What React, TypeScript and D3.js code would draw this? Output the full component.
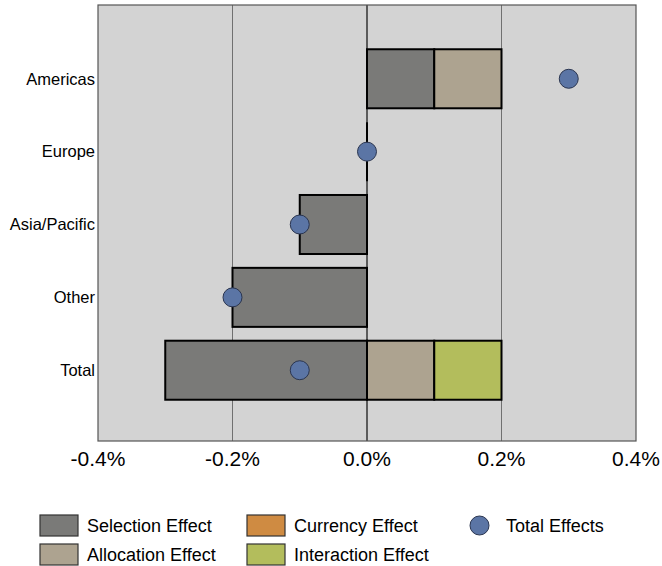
import React from "react";
import * as d3 from "d3";

const categories = ["Americas", "Europe", "Asia/Pacific", "Other", "Total"];
const selectionEffect = [0.1, 0, -0.1, -0.2, -0.3];
const allocationEffect = [0.1, 0, 0, 0, 0.1];
const currencyEffect = [0, 0, 0, 0, 0];
const interactionEffect = [0, 0, 0, 0, 0.1];
const totalEffects = [0.3, 0, -0.1, -0.2, -0.1];
const xTicks = [-0.4, -0.2, 0, 0.2, 0.4];

const seriesNames = ["Selection Effect", "Allocation Effect", "Currency Effect", "Interaction Effect"];
const seriesColors = ["#7a7a78", "#ada390", "#cf8b42", "#b3bd5c"];
const dotColor = "#5b75a5";

export default function App() {
  const W = 662, H = 566;
  const left = 98, right = 636, top = 5, bottom = 441;

  const x = d3.scaleLinear().domain([-0.4, 0.4]).range([left, right]);
  const y = d3.scaleBand<string>().domain(categories).range([top + 2, bottom + 1]).paddingInner(0.19).paddingOuter(0.58);

  const table = categories.map((c, i) => ({
    cat: c,
    s0: selectionEffect[i],
    s1: allocationEffect[i],
    s2: currencyEffect[i],
    s3: interactionEffect[i],
  }));
  const stack = d3.stack<any>().keys(["s0", "s1", "s2", "s3"]).offset(d3.stackOffsetDiverging);
  const layers = stack(table);

  const font = "'Liberation Sans', Arial, sans-serif";
  const fmt = (t: number) => d3.format(".1f")(t).replace("\u2212", "-") + "%";

  return (
    <svg width={W} height={H} style={{ position: "absolute", left: 0, top: 0 }} fontFamily={font}>
      <rect x={0} y={0} width={W} height={H} fill="#ffffff" />
      <rect x={left} y={top} width={right - left} height={bottom - top} fill="#d3d3d3" />
      {xTicks.slice(1, -1).map((t) => (
        <line key={t} x1={x(t)} x2={x(t)} y1={top} y2={bottom} stroke={t === 0 ? "#333" : "#707070"} strokeWidth={t === 0 ? 1.5 : 1} />
      ))}
      {layers.map((layer, li) =>
        layer.map((d, i) => {
          const x0 = x(Math.min(d[0], d[1]));
          const x1 = x(Math.max(d[0], d[1]));
          const v = (table[i] as any)[layer.key];
          const yy = y(categories[i])!;
          if (v === 0) {
            if (li === 0 && selectionEffect[i] === 0 && allocationEffect[i] === 0) {
              return <line key={`${li}-${i}`} x1={x0} x2={x0} y1={yy} y2={yy + y.bandwidth()} stroke="#000" strokeWidth={2} />;
            }
            return null;
          }
          return (
            <rect key={`${li}-${i}`} x={x0} y={yy} width={x1 - x0} height={y.bandwidth()}
              fill={seriesColors[li]} stroke="#000" strokeWidth={2} />
          );
        })
      )}
      {totalEffects.map((v, i) => (
        <circle key={i} cx={x(v)} cy={y(categories[i])! + y.bandwidth() / 2} r={9.5} fill={dotColor} stroke="#2a3550" strokeWidth={1} />
      ))}
      <rect x={left} y={top} width={right - left} height={bottom - top} fill="none" stroke="#555" strokeWidth={1.2} />
      {categories.map((c) => (
        <text key={c} x={95} y={y(c)! + y.bandwidth() / 2} dy="0.35em" textAnchor="end" fontSize={16.5} fill="#000">{c}</text>
      ))}
      {xTicks.map((t) => (
        <text key={t} x={x(t)} y={466} textAnchor="middle" fontSize={21} fill="#000">{fmt(t)}</text>
      ))}
      {[0, 1, 2, 3].map((k) => {
        const col = Math.floor(k / 2);
        const row = k % 2;
        const sx = col === 0 ? 40 : 247;
        const sy = row === 0 ? 515 : 544;
        return (
          <g key={k}>
            <rect x={sx} y={sy} width={38} height={21} fill={seriesColors[k]} stroke="#333" strokeWidth={1.2} />
            <text x={sx + 47} y={sy + 10.5} dy="0.35em" fontSize={18} fill="#000">{seriesNames[k]}</text>
          </g>
        );
      })}
      <circle cx={479.5} cy={525.5} r={9.5} fill={dotColor} stroke="#2a3550" strokeWidth={1} />
      <text x={506} y={525.5} dy="0.35em" fontSize={18} fill="#000">Total Effects</text>
    </svg>
  );
}
